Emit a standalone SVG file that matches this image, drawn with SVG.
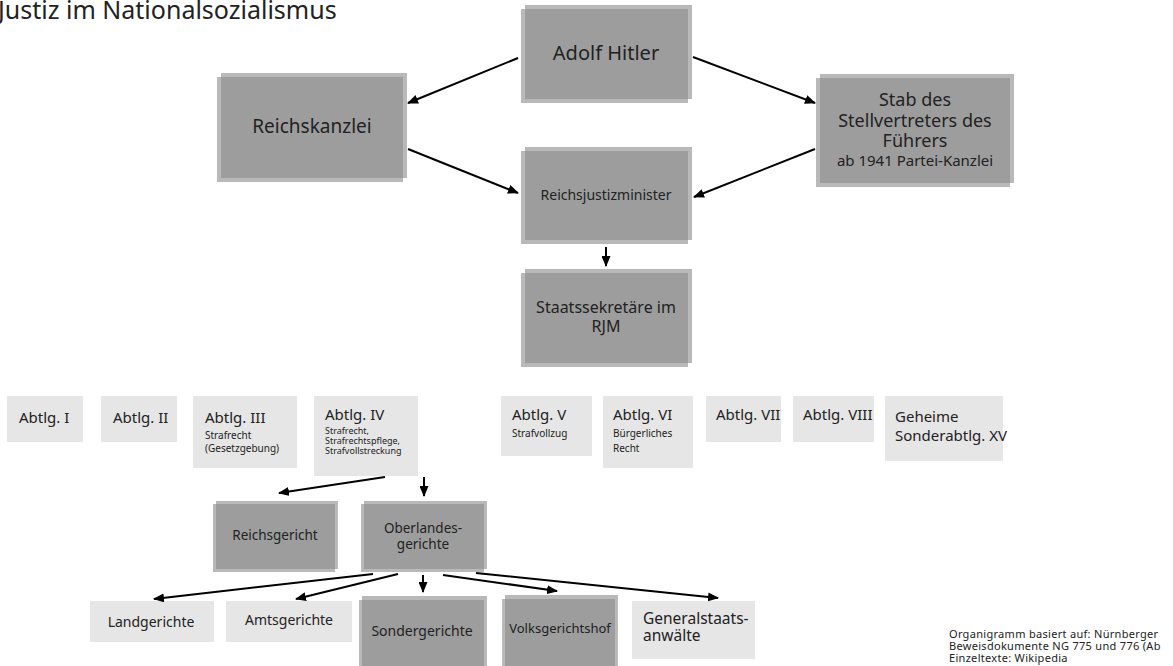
<svg xmlns="http://www.w3.org/2000/svg" width="1173" height="666" viewBox="0 0 1173 666">
<style>
text{font-family:"Noto Sans","DejaVu Sans",sans-serif;fill:#222}
.d{fill:#8a8a8a;fill-opacity:.6}
.l{fill:#e6e6e6}
.c{text-anchor:middle}
.e line{stroke:#000;stroke-width:2;marker-end:url(#ah)}
</style>
<defs>
<marker id="ah" markerUnits="userSpaceOnUse" markerWidth="11" markerHeight="9" refX="10" refY="4.5" orient="auto">
<path d="M0,0 L11,4.5 L0,9 z" fill="#000"/>
</marker>
</defs>
<rect width="1173" height="666" fill="#fff"/>
<text x="-2" y="19" font-size="25">Justiz im Nationalsozialismus</text>

<g id="hitler"><rect class="d" x="525" y="5" width="167" height="94"/><rect class="d" x="521" y="9" width="167" height="94"/>
<text class="c" x="606" y="60" font-size="20">Adolf Hitler</text></g>
<g id="reichskanzlei"><rect class="d" x="221" y="73" width="186" height="105"/><rect class="d" x="217" y="77" width="186" height="105"/>
<text class="c" x="312" y="133" font-size="19">Reichskanzlei</text></g>
<g id="stab"><rect class="d" x="820" y="74" width="194" height="109"/><rect class="d" x="816" y="78" width="194" height="109"/>
<text class="c" font-size="18"><tspan x="915" y="106">Stab des</tspan><tspan x="915" y="127">Stellvertreters des</tspan><tspan x="915" y="147">Führers</tspan></text>
<text class="c" x="915" y="166" font-size="15">ab 1941 Partei-Kanzlei</text></g>
<g id="rjm"><rect class="d" x="525" y="147" width="167" height="93"/><rect class="d" x="521" y="151" width="167" height="93"/>
<text class="c" x="606" y="200" font-size="14">Reichsjustizminister</text></g>
<g id="staats"><rect class="d" x="525" y="269" width="167" height="94"/><rect class="d" x="521" y="273" width="167" height="94"/>
<text class="c" font-size="16"><tspan x="606" y="313">Staatssekretäre im</tspan><tspan x="606" y="332">RJM</tspan></text></g>

<g id="abt1"><rect class="l" x="7" y="396" width="76" height="46"/><text x="19" y="423" font-size="15">Abtlg. I</text></g>
<g id="abt2"><rect class="l" x="101" y="396" width="76" height="46"/><text x="113" y="423" font-size="15">Abtlg. II</text></g>
<g id="abt3"><rect class="l" x="193" y="396" width="104" height="72"/><text x="205" y="423" font-size="15">Abtlg. III</text>
<text font-size="10"><tspan x="205" y="439">Strafrecht</tspan><tspan x="205" y="452">(Gesetzgebung)</tspan></text></g>
<g id="abt4"><rect class="l" x="314" y="396" width="104" height="80"/><text x="325" y="420" font-size="15">Abtlg. IV</text>
<text font-size="9"><tspan x="325" y="434">Strafrecht,</tspan><tspan x="325" y="444">Strafrechtspflege,</tspan><tspan x="325" y="454">Strafvollstreckung</tspan></text></g>
<g id="abt5"><rect class="l" x="501" y="396" width="91" height="60"/><text x="512" y="420" font-size="15">Abtlg. V</text>
<text x="512" y="437" font-size="10">Strafvollzug</text></g>
<g id="abt6"><rect class="l" x="603" y="396" width="90" height="72"/><text x="613" y="420" font-size="15">Abtlg. VI</text>
<text font-size="10"><tspan x="613" y="437">Bürgerliches</tspan><tspan x="613" y="452">Recht</tspan></text></g>
<g id="abt7"><rect class="l" x="706" y="396" width="75" height="46"/><text x="716" y="420" font-size="15">Abtlg. VII</text></g>
<g id="abt8"><rect class="l" x="793" y="396" width="81" height="46"/><text x="803" y="420" font-size="15">Abtlg. VIII</text></g>
<g id="abt15"><rect class="l" x="885" y="396" width="118" height="65"/>
<text font-size="15"><tspan x="895" y="422">Geheime</tspan><tspan x="895" y="441">Sonderabtlg. XV</tspan></text></g>

<g id="reichsgericht"><rect class="d" x="216" y="501" width="122" height="68"/><rect class="d" x="213" y="504" width="122" height="68"/>
<text class="c" x="275" y="540" font-size="13.5">Reichsgericht</text></g>
<g id="olg"><rect class="d" x="364" y="501" width="123" height="68"/><rect class="d" x="361" y="504" width="123" height="68"/>
<text class="c" font-size="13.5"><tspan x="423" y="533">Oberlandes-</tspan><tspan x="423" y="549">gerichte</tspan></text></g>

<g id="landgerichte"><rect class="l" x="90" y="601" width="124" height="41"/><text class="c" x="151" y="627" font-size="14">Landgerichte</text></g>
<g id="amtsgerichte"><rect class="l" x="226" y="601" width="126" height="41"/><text class="c" x="289" y="625" font-size="14">Amtsgerichte</text></g>
<g id="sondergerichte"><rect class="d" x="362" y="596" width="125" height="75"/><rect class="d" x="359" y="600" width="125" height="75"/>
<text class="c" x="422" y="636" font-size="14">Sondergerichte</text></g>
<g id="volksgerichtshof"><rect class="d" x="505" y="595" width="113" height="75"/><rect class="d" x="502" y="599" width="113" height="75"/>
<text class="c" x="560" y="633" font-size="13">Volksgerichtshof</text></g>
<g id="generalstaatsanwaelte"><rect class="l" x="632" y="601" width="123" height="58"/>
<text font-size="15.5"><tspan x="643" y="624">Generalstaats-</tspan><tspan x="643" y="641">anwälte</tspan></text></g>

<g id="note"><text font-size="11" letter-spacing="0.3"><tspan x="949" y="638">Organigramm basiert auf: Nürnberger</tspan><tspan x="949" y="650">Beweisdokumente NG 775 und 776 (Ab</tspan><tspan x="949" y="662">Einzeltexte: Wikipedia</tspan></text></g>

<g id="connectors" class="e">
<line x1="518" y1="58" x2="408" y2="103"/>
<line x1="693" y1="57" x2="815" y2="103"/>
<line x1="408" y1="149" x2="518" y2="193"/>
<line x1="815" y1="149" x2="694" y2="197"/>
<line x1="606" y1="247" x2="606" y2="266"/>
<line x1="385" y1="477" x2="279" y2="493"/>
<line x1="424" y1="477" x2="424" y2="496"/>
<line x1="373" y1="574" x2="154" y2="599"/>
<line x1="398" y1="574" x2="296" y2="599"/>
<line x1="423" y1="575" x2="423" y2="592"/>
<line x1="443" y1="575" x2="557" y2="591"/>
<line x1="476" y1="573" x2="718" y2="598"/>
</g>
</svg>
